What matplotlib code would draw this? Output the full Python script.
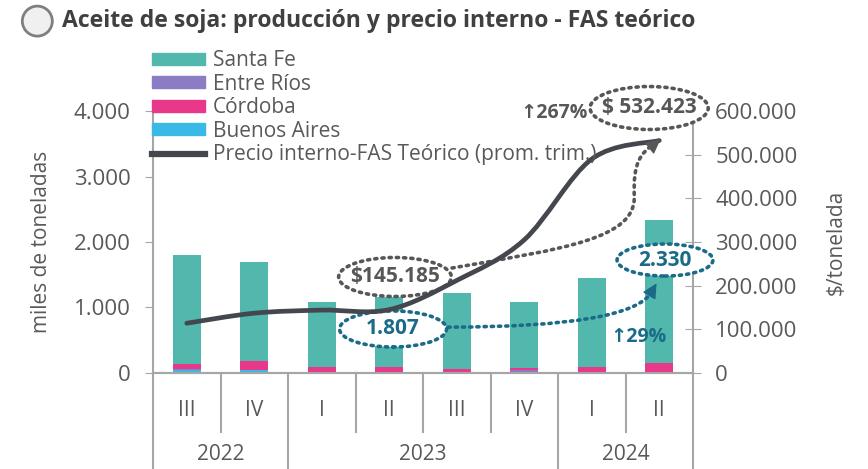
import matplotlib
matplotlib.use("Agg")
import matplotlib.pyplot as plt
import numpy as np
from matplotlib.path import Path
from matplotlib.patches import PathPatch, Patch, Ellipse, FancyArrowPatch
from matplotlib.lines import Line2D
from matplotlib.ticker import FuncFormatter

plt.rcParams['font.family'] = ['Open Sans', 'DejaVu Sans']

# datos (miles de toneladas y $/tonelada)
trimestres = ["III", "IV", "I", "II", "III", "IV", "I", "II"]
anios = ["2022", "2023", "2024"]
trim_por_anio = [2, 4, 2]
buenos_aires = [50, 40, 0, 0, 0, 20, 0, 0]
entre_rios = [5, 10, 0, 0, 0, 30, 0, 0]
cordoba = [80, 130, 90, 90, 65, 30, 90, 160]
total = [1800, 1700, 1085, 1160, 1220, 1080, 1450, 2330]
santa_fe = [t - a - b - c for t, a, b, c in zip(total, buenos_aires, entre_rios, cordoba)]
precio = [114000, 137000, 144000, 145185, 212000, 305000, 490000, 532423]

c_sf = "#52b8ad"
c_er = "#8b7cc4"
c_co = "#e8388a"
c_ba = "#38b9e6"
c_line = "#45474f"
c_blue = "#1b6b88"
c_gray = "#575757"
c_txt = "#595959"
c_ax = "#a6a6a6"
dots = (0, (0.6, 1.4))

fig = plt.figure(figsize=(8.68, 4.69), dpi=100)
ax = fig.add_axes([0.1763, 0.2047, 0.6221, 0.5586])
ax2 = ax.twinx()

x = np.arange(len(trimestres))
w = 0.41
bottom = np.zeros(len(x))
for vals, col in [(buenos_aires, c_ba), (entre_rios, c_er), (cordoba, c_co), (santa_fe, c_sf)]:
    ax.bar(x, vals, w, bottom=bottom, color=col, zorder=2)
    bottom += np.array(vals)

ax.set_xlim(-0.5, 7.5)
ax.set_ylim(0, 4000)
ax2.set_ylim(0, 600000)

fmt = FuncFormatter(lambda v, p: f"{v:,.0f}".replace(",", "."))
ax.yaxis.set_major_formatter(fmt)
ax2.yaxis.set_major_formatter(fmt)
ax.set_yticks([0, 1000, 2000, 3000, 4000])
ax2.set_yticks(np.arange(0, 600001, 100000))
ax.tick_params(axis="y", length=6, color=c_ax, labelsize=16, labelcolor=c_txt, pad=10)
ax2.tick_params(axis="y", direction="inout", length=12, color=c_ax, labelsize=16,
                labelcolor=c_txt, pad=10)
ax.tick_params(axis="x", bottom=False, labelbottom=False)
for a in (ax, ax2):
    a.spines["top"].set_visible(False)
    for s in ("left", "right", "bottom"):
        a.spines[s].set_color(c_ax)
        a.spines[s].set_linewidth(1.5)
ax2.spines["left"].set_visible(False)
ax.spines["right"].set_visible(False)

ax.set_ylabel("miles de toneladas", fontsize=15, color=c_txt, labelpad=16)
ax2.set_ylabel("$/tonelada", fontsize=15, color=c_txt, labelpad=20)

ax.set_zorder(ax2.get_zorder() + 1)
ax.patch.set_visible(False)

# eje de categorias en dos niveles
tr = ax.get_xaxis_transform()
for xi, q in zip(x, trimestres):
    ax.text(xi, -0.145, q, transform=tr, ha="center", va="center", fontsize=15, color=c_txt)
edges = np.cumsum([0] + trim_por_anio) - 0.5
for k, yr in enumerate(anios):
    ax.text((edges[k] + edges[k + 1]) / 2, -0.31, yr, transform=tr, ha="center", va="center",
            fontsize=15, color=c_txt)
for b in np.arange(-0.5, 8.0, 1.0):
    low = -0.37 if b in edges else -0.225
    ax.plot([b, b], [0, low], transform=tr, color=c_ax, lw=1.5, clip_on=False)

# etiquetas en elipses punteadas
def etiqueta(txt, xy, ew, eh, col):
    ax.add_patch(Ellipse(xy, ew, eh, fc="white", ec=col, lw=2.6, ls=dots,
                         capstyle="round", zorder=4, clip_on=False))
    ax.text(xy[0], xy[1], txt, ha="center", va="center", fontsize=15, fontweight="bold",
            color=col, zorder=6, clip_on=False)

etiqueta("$145.185", (3.085, 1466), 1.67, 595, c_gray)
etiqueta("1.807", (3.056, 672), 1.585, 550, c_blue)
etiqueta("2.330", (7.085, 1725), 1.42, 489, c_blue)
etiqueta("$ 532.423", (6.85, 4046), 1.75, 656, c_gray)
ax.text(5.44, 3975, "↑267%", ha="center", va="center", fontsize=14, fontweight="bold",
        color=c_gray, clip_on=False)
ax.text(6.69, 550, "↑29%", ha="center", va="center", fontsize=14, fontweight="bold",
        color=c_blue, zorder=6)

# flechas punteadas con punta solida
def punta(fin, cola, col):
    ax.annotate("", xy=fin, xytext=cola, zorder=6, annotation_clip=False,
                arrowprops=dict(arrowstyle="-|>,head_length=0.9,head_width=0.45", color=col,
                                lw=1, shrinkA=0, shrinkB=0))

ax.annotate("", xy=(6.89, 1240), xytext=(3.87, 700), zorder=5,
            arrowprops=dict(arrowstyle="-", color=c_blue, lw=2.6, ls=dots,
                            shrinkA=0, shrinkB=0,
                            connectionstyle="angle3,angleA=0,angleB=60"))
punta((6.96, 1370), (6.88, 1230), c_blue)

p_gris = Path([(3.93, 1603), (5.6, 1900), (6.65, 2050), (6.63, 2700),
               (6.61, 3200), (6.72, 3360), (6.93, 3500)],
              [Path.MOVETO] + [Path.CURVE4] * 6)
ax.add_patch(FancyArrowPatch(path=p_gris, arrowstyle="-", color=c_gray, lw=2.6, ls=dots,
                             zorder=5, clip_on=False))
punta((7.02, 3570), (6.9, 3470), c_gray)

# curva suavizada del precio (estilo Excel)
pts = np.column_stack([x, precio]).astype(float)
ext = np.vstack([pts[0], pts, pts[-1]])
verts = [tuple(pts[0])]
codes = [Path.MOVETO]
for i in range(len(pts) - 1):
    p0, p1, p2, p3 = ext[i], ext[i + 1], ext[i + 2], ext[i + 3]
    c1 = p1 + (p2 - p0) / 6
    c2 = p2 - (p3 - p1) / 6
    verts += [tuple(c1), tuple(c2), tuple(p2)]
    codes += [Path.CURVE4] * 3
ax.add_patch(PathPatch(Path(verts, codes), transform=ax2.transData, fc="none", ec=c_line,
                       lw=3.4, capstyle="round", zorder=5.5))

# leyenda
handles = [Patch(color=c_sf), Patch(color=c_er), Patch(color=c_co), Patch(color=c_ba),
           Line2D([], [], color=c_line, lw=4.5)]
labels = ["Santa Fe", "Entre Ríos", "Córdoba", "Buenos Aires", "Precio interno-FAS Teórico (prom. trim.)"]
fig.legend(handles, labels, loc="upper left", bbox_to_anchor=(0.175, 0.893), frameon=False,
           fontsize=15, labelcolor=c_txt, handlelength=2.55, handleheight=0.5,
           labelspacing=0.12, handletextpad=0.38, borderpad=0, borderaxespad=0)

# titulo
fig.add_artist(Ellipse((0.043, 0.955), 30 / 868, 30 / 469, transform=fig.transFigure,
                       fc="#f0f0f0", ec="#7f7f7f", lw=2))
fig.text(0.071, 0.955, "Aceite de soja: producción y precio interno - FAS teórico",
         fontsize=16.6, fontweight="bold", color="#404040", va="center", ha="left")

fig.savefig("out.png", dpi=100)
